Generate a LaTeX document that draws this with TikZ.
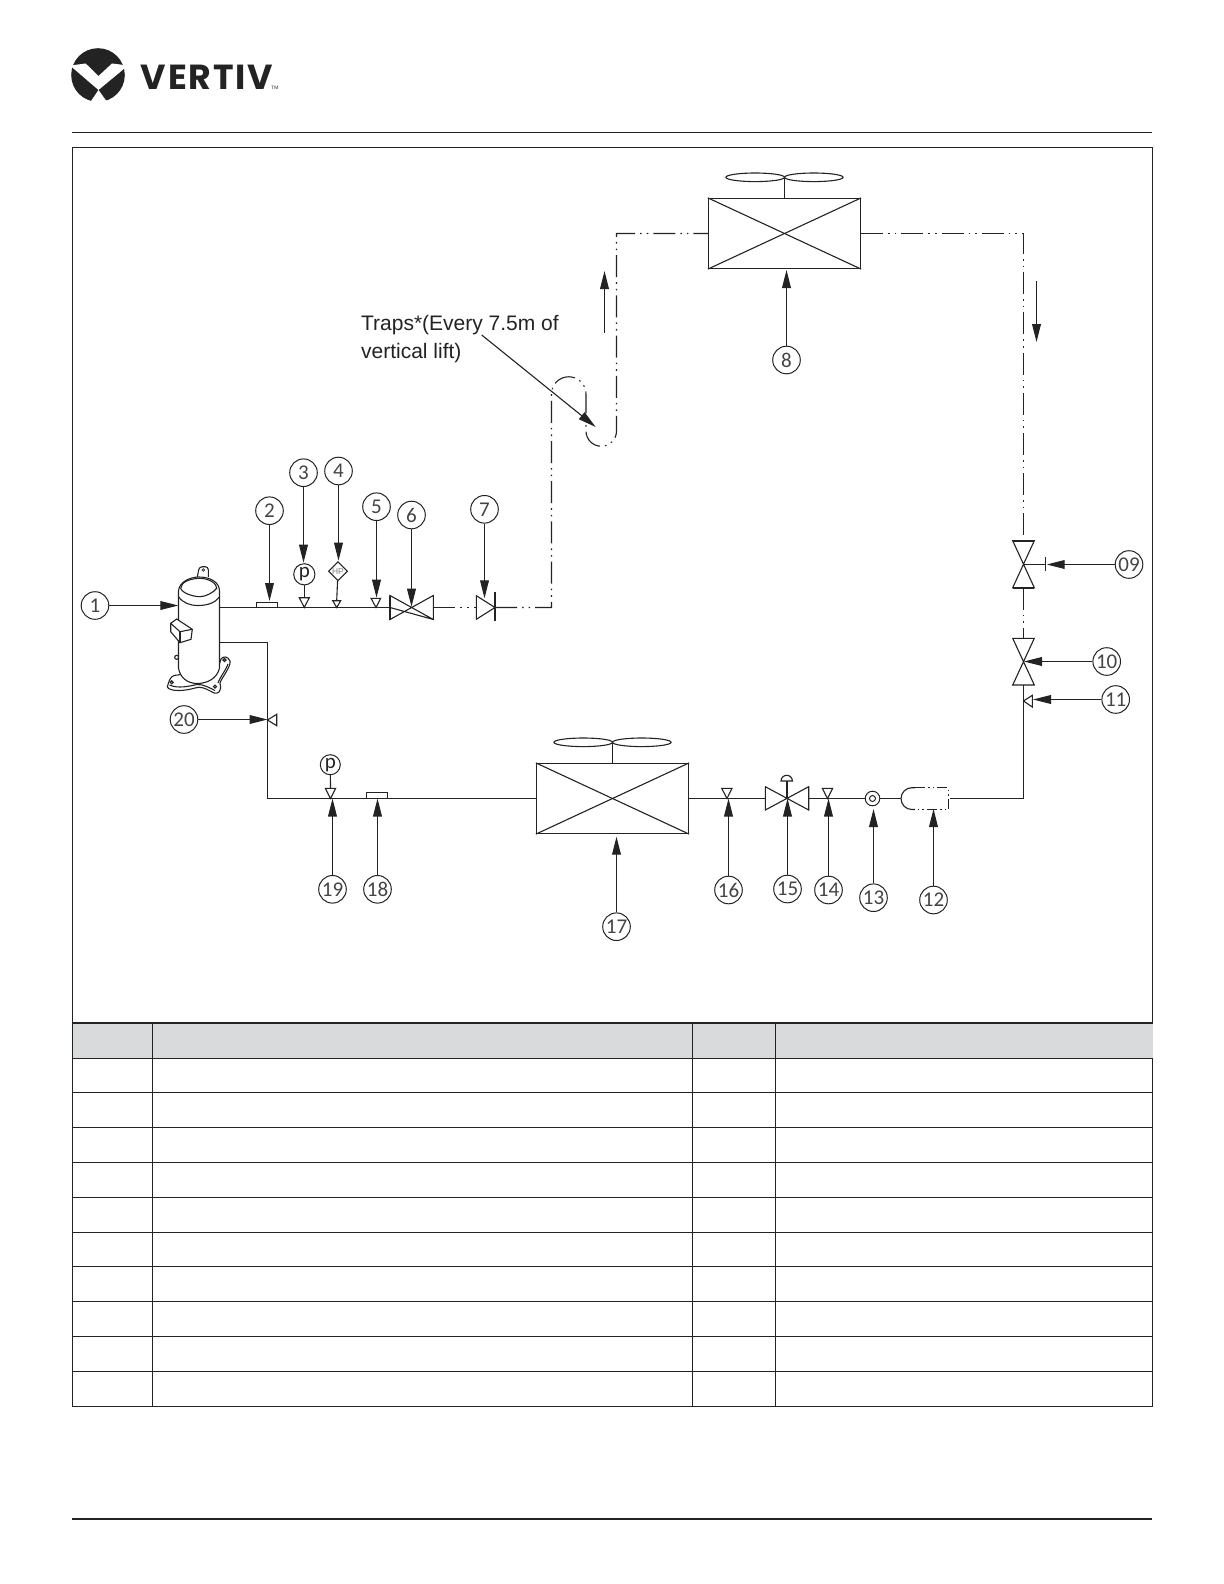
\documentclass[tikz,border=0pt]{standalone}
\usepackage{fontspec}
\usepackage{xcolor}
\usetikzlibrary{arrows.meta,shapes.geometric}

\newfontfamily\tagfont{Carlito}
\newfontfamily\notefont{Liberation Sans}
\newfontfamily\logofont[LetterSpace=5]{Poppins}

\definecolor{inkblack}{HTML}{232323}
\definecolor{headgray}{HTML}{D8DADC}

\tikzset{
	pipe/.style = {line width = 0.55pt, color = inkblack},
	altpipe/.style = {pipe, dash pattern = on 11pt off 2.5pt on 0.8pt off 2.5pt on 0.8pt off 2.5pt},
	shortpipe/.style = {pipe, dash pattern = on 5pt off 1.6pt on 0.7pt off 1.6pt on 0.7pt off 1.6pt},
	leader/.style = {line width = 0.55pt, color = inkblack, -{Stealth[inset=0pt, length=9pt, width=4.4pt]}},
	tag/.style = {circle, draw = inkblack, line width = 0.5pt, minimum size = 13.8pt, inner sep = 0pt,
		text = inkblack!85, font = \tagfont\fontsize{10.5}{11}\selectfont},
	gauge/.style = {circle, draw = inkblack, line width = 0.5pt, minimum size = 10.6pt, inner sep = 0pt,
		text = inkblack, font = \tagfont\fontsize{10.5}{11}\selectfont},
	coil/.style = {rectangle, draw = inkblack, line width = 0.6pt, minimum width = 76pt, minimum height = 35pt, inner sep = 0pt},
	rule/.style = {line width = 0.55pt, color = inkblack}
}

\begin{document}
\begin{tikzpicture}[x=0.5pt, y=-0.5pt]
	%\draw[help lines] (0,0) grid (1224,1584);
	\fill[white] (0,0) rectangle (1224,1584);

	% logo
	\fill[inkblack] (98,75) circle (26.8);
	\fill[white] (70,65.5) -- (85.7,63.5) -- (98.5,76) -- (112,63.5) -- (128,65.5) -- (98.5,90) -- (108.5,104) -- (89,104) -- (98.5,90) -- cycle;
	\node[anchor = base west, inner sep = 0pt, text = inkblack, font = \logofont\bfseries\fontsize{17.4}{18}\selectfont] (brand) at (140.5,89.3) {VERTIV};
	\node[anchor = base west, inner sep = 0pt, text = inkblack, font = \notefont\fontsize{2.4}{3}\selectfont] (brandtm) at (271,89.6) {TM};

	% page rules and frame
	\draw[rule] (72,132.5) -- (1152,132.5);
	\draw[rule, line width = 0.8pt] (72,1519) -- (1152,1519);
	\draw[rule] (72.5,147.5) rectangle (1152.5,1406.5);

	% table
	\fill[headgray] (72.5,1023) rectangle (1152.5,1058);
	\draw[rule, line width = 1.1pt] (72.5,1023) -- (1152.5,1023);
	\draw[rule] (72.5,1058.5) -- (1152.5,1058.5);
	\draw[rule] (72.5,1092.5) -- (1152.5,1092.5);
	\draw[rule] (72.5,1127.5) -- (1152.5,1127.5);
	\draw[rule] (72.5,1162.5) -- (1152.5,1162.5);
	\draw[rule] (72.5,1197.5) -- (1152.5,1197.5);
	\draw[rule] (72.5,1232.5) -- (1152.5,1232.5);
	\draw[rule] (72.5,1266.5) -- (1152.5,1266.5);
	\draw[rule] (72.5,1301.5) -- (1152.5,1301.5);
	\draw[rule] (72.5,1336.5) -- (1152.5,1336.5);
	\draw[rule] (72.5,1371.5) -- (1152.5,1371.5);
	\draw[rule] (152.5,1023) -- (152.5,1406.5);
	\draw[rule] (692.5,1023) -- (692.5,1406.5);
	\draw[rule] (775.5,1023) -- (775.5,1406.5);

	% coils and fans
	\node[coil] (cond) at (784.5,233.5) {};
	\node[coil] (evap) at (612.5,798.5) {};
	\draw[rule] (cond.north west) -- (cond.south east);
	\draw[rule] (cond.south west) -- (cond.north east);
	\draw[rule] (evap.north west) -- (evap.south east);
	\draw[rule] (evap.south west) -- (evap.north east);
	\draw[pipe] (755.2,177.3) ellipse (29.3 and 4.3);
	\draw[pipe] (813.8,177.3) ellipse (29.3 and 4.3);
	\draw[pipe] (784.5,177.3) -- (cond.north);
	\draw[pipe] (583.2,742.3) ellipse (29.3 and 4.3);
	\draw[pipe] (641.8,742.3) ellipse (29.3 and 4.3);
	\draw[pipe] (612.5,742.3) -- (evap.north);

	% pipe joints
	\coordinate (dis) at (219.3,607.5);
	\coordinate (v6l) at (390,607.5);
	\coordinate (v6r) at (433.3,607.5);
	\coordinate (v7l) at (476.3,607.5);
	\coordinate (v7r) at (495,607.5);
	\coordinate (riser) at (551.5,607.5);
	\coordinate (topl) at (616.5,233.5);
	\coordinate (topr) at (1023.5,233.5);
	\coordinate (v9t) at (1023.5,540.7);
	\coordinate (v9c) at (1023.5,564.5);
	\coordinate (v9b) at (1023.5,587.7);
	\coordinate (v10t) at (1023.5,638.3);
	\coordinate (v10c) at (1023.5,661.7);
	\coordinate (v10b) at (1023.5,685);
	\coordinate (liq) at (1023.5,798.5);
	\coordinate (recr) at (950,798.5);
	\coordinate (recl) at (901.3,798.5);
	\coordinate (v15l) at (765.3,798.5);
	\coordinate (v15c) at (787,798.5);
	\coordinate (v15r) at (808.7,798.5);
	\coordinate (suc) at (219.3,642.5);
	\coordinate (sucb) at (267.5,642.5);
	\coordinate (succ) at (267.5,798.5);
	\node[circle, draw = inkblack, line width = 0.5pt, minimum size = 7.3pt, inner sep = 0pt] (sight) at (872.5,798.5) {};
	\node[circle, draw = inkblack, line width = 0.5pt, minimum size = 3pt, inner sep = 0pt] (sighti) at (872.5,798.5) {};

	\draw[pipe] (dis) -- (v6l);
	\draw[altpipe] (v6r) -- (v7l);
	\draw[altpipe] (v7r) -- (riser) -- (551.5,394) arc (180:360:17.25) -- (586,431) arc (180:0:15.25) -- (topl) -- (cond.west);
	\draw[altpipe] (cond.east) -- (topr) -- (v9t);
	\draw[altpipe] (v9b) -- (v10t);
	\draw[pipe] (v10b) -- (liq) -- (recr);
	\draw[pipe] (recl) -- (sight);
	\draw[pipe] (sight) -- (v15r);
	\draw[pipe] (v15l) -- (evap.east);
	\draw[pipe] (suc) -- (sucb) -- (succ) -- (evap.west);

	% receiver
	\draw[pipe] (915,809.5) -- (911.9,809.5) arc (90:270:10.9) -- (915,787.7);
	\draw[shortpipe] (915,787.7) -- (948.7,787.7) -- (948.7,809.5) -- (915,809.5);

	% valves
	\draw[pipe] (v6l) -- (433.3,619.5) -- (433.3,595.5) -- (390,619.5) -- (390,595.5) -- (433.3,619.5);
	\draw[pipe, line width = 0.8pt] (390,595.5) -- (390,619.5);
	\draw[pipe] (476.3,595.7) -- (v7r) -- (476.3,619.3) -- cycle;
	\draw[pipe] (495,592) -- (495,621);
	\draw[pipe] (1012.7,540.7) -- (1034.3,540.7) -- (1012.7,587.7) -- (1034.3,587.7) -- cycle;
	\draw[pipe, line width = 1pt] (1012.7,540.7) -- (1034.3,540.7);
	\draw[pipe, line width = 1pt] (1012.7,587.7) -- (1034.3,587.7);
	\draw[pipe] (v9c) -- (1045.5,564.5);
	\draw[pipe] (1045.5,557.3) -- (1045.5,571.3);
	\draw[pipe] (1012.7,638.3) -- (1034.3,638.3) -- (1012.7,685) -- (1034.3,685) -- cycle;
	\draw[pipe] (765.3,786.7) -- (808.7,810) -- (808.7,786.7) -- (765.3,810) -- cycle;
	\draw[pipe] (v15c) -- (787,781);
	\draw[pipe, fill = white] (781,781) arc (180:360:5.7) -- cycle;

	% tap points
	\draw[pipe] (299.3,597.7) -- (309.3,597.7) -- (304.3,607.5) -- cycle;
	\draw[pipe] (332.7,600.7) -- (340.7,600.7) -- (336.7,607.5) -- cycle;
	\draw[pipe] (371,598.3) -- (380.7,598.3) -- (376,607.5) -- cycle;
	\draw[pipe] (1032.3,695.3) -- (1032.3,707) -- (1023.5,701) -- cycle;
	\draw[pipe] (276.7,714.3) -- (276.7,725.7) -- (267.5,720) -- cycle;
	\draw[pipe] (325.3,788.3) -- (335.7,788.3) -- (330.5,798.5) -- cycle;
	\draw[pipe] (721.7,788.3) -- (732,788.3) -- (727,798.5) -- cycle;
	\draw[pipe] (822.3,788.3) -- (832.7,788.3) -- (827.5,798.5) -- cycle;

	% sensors and gauges
	\draw[pipe, fill = white] (256.3,602.5) rectangle (277.3,607.5);
	\draw[pipe, fill = white] (366.5,792.5) rectangle (387.5,798.5);
	\node[gauge] (g3) at (304.3,574.3) {p};
	\node[gauge, minimum size = 10pt] (g19) at (330.3,764.7) {p};
	\node[diamond, draw = inkblack, line width = 0.5pt, minimum size = 9.6pt, inner sep = 0pt, text = inkblack!60, font = \notefont\fontsize{4.2}{4}\selectfont] (g4) at (338,571.3) {HP};
	\draw[pipe] (g3) -- (304.3,597.7);
	\draw[pipe] (g19) -- (330.5,788.3);
	\draw[pipe] (g4) -- (336.7,600.7);

	% compressor
	\draw[pipe, fill = white, rounded corners = 1.5] (197.3,577) -- (199.3,566.7) -- (208.3,566.7) -- (208.3,577);
	\draw[pipe, line width = 0.35pt] (203.3,570) circle (1.3);
	\draw[pipe] (176.7,657.3) circle (2);
	\draw[pipe, fill = white] (167.3,687) .. controls (170,676) and (173,675) .. (178,675) -- (219,665) -- (221,659) .. controls (223,656) and (228,656) .. (230,661) .. controls (231,667) and (222,677) .. (220,683) .. controls (222,692) and (218,694) .. (214,693) .. controls (205,688) and (200,686) .. (195,688) .. controls (185,691) and (170,692) .. (167.3,687) -- cycle;
	\draw[pipe] (169.5,685) .. controls (178,689) and (190,686) .. (197,684.5) .. controls (203,684) and (210,688) .. (215,690.5);
	\draw[pipe] (218,683) .. controls (220,677) and (226,670) .. (228,664);
	\draw[pipe] (171.7,682.3) circle (1.5);
	\draw[pipe] (215,686.7) circle (1.5);
	\draw[pipe] (224.5,660) circle (1.5);
	\draw[pipe, fill = white] (178.5,668.3) -- (178.5,591) .. controls (179,582) and (190,577) .. (199,577) .. controls (210,577) and (219.5,582) .. (219.5,591) -- (219.5,668.3) .. controls (217,678) and (208,683.5) .. (197,683.5) .. controls (187,683.5) and (180,677) .. (178.5,668.3) -- cycle;
	\draw[pipe] (178.5,596.7) .. controls (183,603) and (190,605.5) .. (198,605.5) .. controls (207,605.5) and (215,603) .. (219.5,597);
	\draw[pipe] (180.7,588.3) .. controls (181,582) and (190,578.5) .. (200,578.3) .. controls (210,578.5) and (217,584) .. (216.7,588.3) .. controls (214,592) and (206,596.7) .. (200,596.7) .. controls (193,596.7) and (182,593) .. (180.7,588.3) -- cycle;
	\draw[pipe, fill = white] (170.7,623.3) -- (176.7,619) -- (192.3,629.3) -- (191,639.3) -- (180,642.7) -- (170.7,631.7) -- cycle;
	\draw[pipe] (170.7,623.3) -- (180,631.7) -- (192.3,629.3);
	\draw[pipe] (180,631.7) -- (180,642.7);

	% note
	\node[anchor = base west, align = left, inner sep = 0pt, text = inkblack, font = \notefont\fontsize{10.5}{13.7}\selectfont] (traps) at (360.7,358) {Traps*(Every 7.5m of\\vertical lift)};
	\coordinate (trapsa) at (481.7,335);
	\coordinate (trapsb) at (595.7,427);
	\draw[leader] (trapsa) -- (trapsb);

	% flow arrows
	\coordinate (upa) at (604.5,333);
	\coordinate (upb) at (604.5,271);
	\coordinate (dna) at (1036.5,281);
	\coordinate (dnb) at (1036.5,342);
	\draw[leader] (upa) -- (upb);
	\draw[leader] (dna) -- (dnb);

	% numbered tags
	\node[tag] (c1) at (95,605.5) {1};
	\node[tag] (c2) at (269.5,510.7) {2};
	\node[tag] (c3) at (303.5,472.7) {3};
	\node[tag] (c4) at (338.5,471) {4};
	\node[tag] (c5) at (376.5,506.7) {5};
	\node[tag] (c6) at (411.5,515) {6};
	\node[tag] (c7) at (484.5,509.3) {7};
	\node[tag] (c8) at (786.5,360) {8};
	\node[tag] (c9) at (1129,564.5) {09};
	\node[tag] (c10) at (1106.7,661.5) {10};
	\node[tag] (c11) at (1115.7,699.5) {11};
	\node[tag] (c12) at (933.5,900) {12};
	\node[tag] (c13) at (873.5,897.7) {13};
	\node[tag] (c14) at (828.5,890) {14};
	\node[tag] (c15) at (787.5,889) {15};
	\node[tag] (c16) at (728.5,890) {16};
	\node[tag] (c17) at (616.5,926.7) {17};
	\node[tag] (c18) at (377.5,889.3) {18};
	\node[tag] (c19) at (332.5,889.3) {19};
	\node[tag] (c20) at (184,719.5) {20};

	\coordinate (t1) at (178.3,605.5);
	\coordinate (t2) at (269.5,601);
	\coordinate (t3) at (303.5,562.7);
	\coordinate (t4) at (338.5,560.7);
	\coordinate (t5) at (376.5,597.7);
	\coordinate (t6) at (411.5,606.7);
	\coordinate (t7) at (484.5,598.3);
	\coordinate (t8) at (786.5,270);
	\coordinate (t9) at (1046.7,564.5);
	\coordinate (t10) at (1024,661.5);
	\coordinate (t11) at (1033,699.5);
	\coordinate (t12) at (933.5,809);
	\coordinate (t13) at (873.5,809);
	\coordinate (t14) at (828.5,798.5);
	\coordinate (t15) at (787.5,798.5);
	\coordinate (t16) at (728.5,798.5);
	\coordinate (t17) at (616.5,836.7);
	\coordinate (t18) at (377.5,798.5);
	\coordinate (t19) at (332.5,798.5);
	\coordinate (t20) at (267.5,719.5);

	\draw[leader] (c1) -- (t1);
	\draw[leader] (c2) -- (t2);
	\draw[leader] (c3) -- (t3);
	\draw[leader] (c4) -- (t4);
	\draw[leader] (c5) -- (t5);
	\draw[leader] (c6) -- (t6);
	\draw[leader] (c7) -- (t7);
	\draw[leader] (c8) -- (t8);
	\draw[leader] (c9) -- (t9);
	\draw[leader] (c10) -- (t10);
	\draw[leader] (c11) -- (t11);
	\draw[leader] (c12) -- (t12);
	\draw[leader] (c13) -- (t13);
	\draw[leader] (c14) -- (t14);
	\draw[leader] (c15) -- (t15);
	\draw[leader] (c16) -- (t16);
	\draw[leader] (c17) -- (t17);
	\draw[leader] (c18) -- (t18);
	\draw[leader] (c19) -- (t19);
	\draw[leader] (c20) -- (t20);
\end{tikzpicture}
\end{document}
